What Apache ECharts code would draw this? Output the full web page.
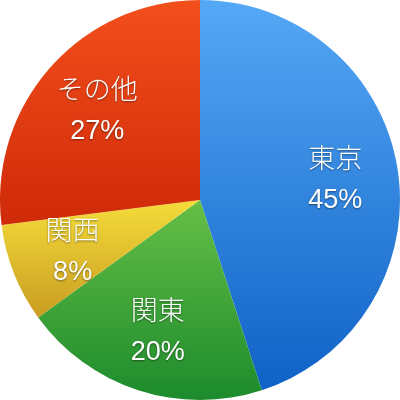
<!DOCTYPE html>
<html><head><meta charset="utf-8">
<script src="https://cdn.jsdelivr.net/npm/echarts@6/dist/echarts.min.js"></script>
<style>html,body{margin:0;padding:0;background:#fff}#c{width:400px;height:400px}</style>
</head><body><div id="c"></div>
<script>
const categories = ['東京', '関東', '関西', 'その他'];
const values = [45, 20, 8, 27];
const topColors = ['#55a8f5', '#66bf46', '#f5dc3a', '#f34f1c'];
const bottomColors = ['#0f62c6', '#1c8b2c', '#c99d22', '#cf2a08'];

function grad(i){
  return new echarts.graphic.LinearGradient(0,0,0,1,[{offset:0,color:topColors[i]},{offset:1,color:bottomColors[i]}]);
}
const chart = echarts.init(document.getElementById('c'), null, {renderer:'canvas'});
const pieData = categories.map((n,i)=>({name:n,value:values[i],itemStyle:{color:grad(i)}}));
const labelData = categories.map((n,i)=>({name:n,value:values[i],itemStyle:{color:'rgba(0,0,0,0)'}}));
chart.setOption({
  animation:false,
  series:[
    {type:'pie',center:['50%','50%'],radius:['0%','100%'],startAngle:90,clockwise:true,
     label:{show:false},labelLine:{show:false},silent:true,data:pieData},
    {type:'pie',center:['50%','50%'],radius:['34%','100%'],startAngle:90,clockwise:true,silent:true,
     label:{show:true,position:'inside',formatter:p=>p.name+'\n'+p.value+'%',
       color:'#fff',fontSize:27,lineHeight:40,fontFamily:'"Liberation Sans", "Noto Sans CJK JP"',fontWeight:300,
       textShadowColor:'rgba(0,0,0,0.45)',textShadowBlur:2,textShadowOffsetY:1,offset:[0,2]},
     labelLine:{show:false},data:labelData}
  ]
});
</script></body></html>
